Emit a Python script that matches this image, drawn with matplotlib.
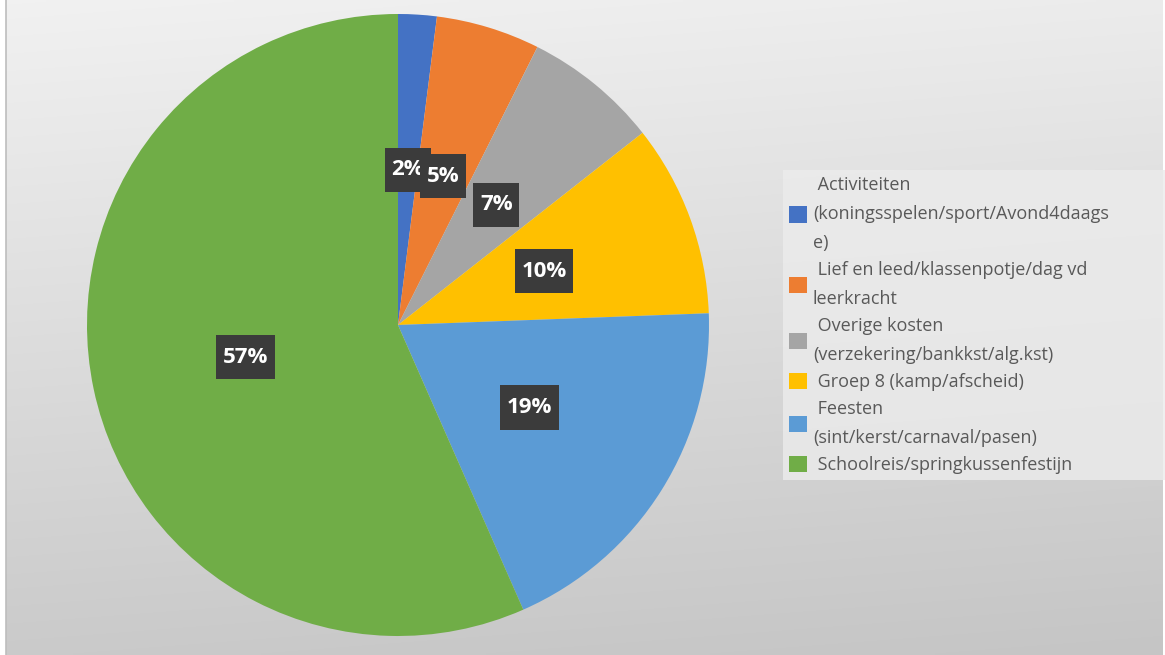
import numpy as np
import matplotlib
matplotlib.use("Agg")
import matplotlib.pyplot as plt
from matplotlib.patches import Patch
from matplotlib.path import Path

# slice shares (percent), clockwise from 12 o'clock
labels = [
    " Activiteiten\n(koningsspelen/sport/Avond4daags\ne)",
    " Lief en leed/klassenpotje/dag vd\nleerkracht",
    " Overige kosten\n(verzekering/bankkst/alg.kst)",
    " Groep 8 (kamp/afscheid)",
    " Feesten\n(sint/kerst/carnaval/pasen)",
    " Schoolreis/springkussenfestijn",
]
shares = [2.0, 5.4, 7.0, 10.0, 19.0, 56.6]
colors = ["#4472C4", "#ED7D31", "#A5A5A5", "#FFC000", "#5B9BD5", "#70AD47"]

plt.rcParams["font.family"] = ["Open Sans", "DejaVu Sans"]

W, H = 1165, 655
fig = plt.figure(figsize=(W / 100, H / 100), dpi=100)
fig.patch.set_facecolor("white")

# gradient background of the chart area
bg = fig.add_axes([6 / W, 0, (1163 - 6) / W, 1], zorder=0)
yy, xx = np.mgrid[0:1:200j, 0:1:200j]
t = 0.88 * yy + 0.12 * xx
bg.imshow(t, cmap=matplotlib.colors.LinearSegmentedColormap.from_list(
    "bg", ["#f1f1f1", "#c5c5c5"]), aspect="auto", extent=[0, 1, 1, 0],
    vmin=0, vmax=1, interpolation="bilinear")
bg.set_axis_off()
fig.add_artist(plt.Line2D([6 / W, 6 / W], [0, 1], color="#bdbdbd", lw=1.2))


def label_box(x0, y0, width, height, mutation_size):
    # square box, more padding top/bottom than left/right
    px, py = 0.3 * mutation_size, 0.52 * mutation_size
    x1, y1 = x0 + width + px, y0 + height + py
    x0, y0 = x0 - px, y0 - py
    return Path([(x0, y0), (x1, y0), (x1, y1), (x0, y1), (x0, y0)], closed=True)


# pie: centre (398, 325) px, radius 311 px
cx, cy, r = 398, 325, 311
ax = fig.add_axes([(cx - r) / W, (H - cy - r) / H, 2 * r / W, 2 * r / H], zorder=1)
ax.set_facecolor("none")
wedges, _, autotexts = ax.pie(
    shares, colors=colors, startangle=90, counterclock=False,
    autopct=lambda p: f"{p:.0f}%", pctdistance=0.5,
    wedgeprops=dict(linewidth=0), radius=1.0,
)
ax.set_xlim(-1, 1)
ax.set_ylim(-1, 1)
ax.set_aspect("equal")
for t_ in autotexts:
    t_.set_color("white")
    t_.set_fontsize(16)
    t_.set_fontweight("bold")
    t_.set_bbox(dict(boxstyle=label_box, facecolor="#3b3b3b",
                     edgecolor="none", linewidth=0))

handles = [Patch(facecolor=c, edgecolor="none") for c in colors]
top = 1 - 170 / H
bot = 1 - 482 / H
leg = fig.legend(
    handles, labels, loc="upper left",
    bbox_to_anchor=(783 / W, bot, (1165 - 783) / W, top - bot), mode="expand",
    frameon=True, fancybox=False, fontsize=13, labelcolor="#595959",
    handlelength=1.0, handleheight=1.0, handletextpad=0.33,
    labelspacing=0.5, borderpad=0.32, borderaxespad=0,
)
leg.get_frame().set_facecolor("#ececec")
leg.get_frame().set_edgecolor("none")
for txt in leg.get_texts():
    txt.set_linespacing(1.78)

fig.savefig("out.png", dpi=100)
